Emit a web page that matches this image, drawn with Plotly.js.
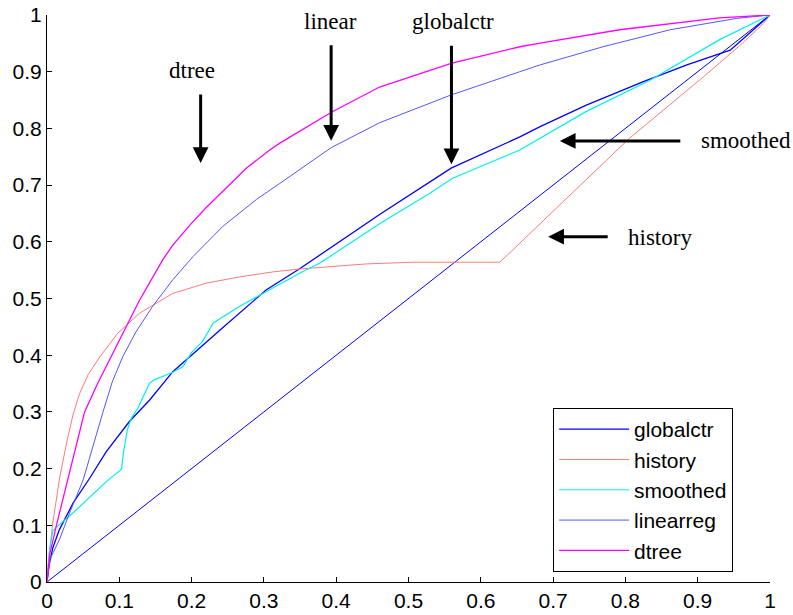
<!DOCTYPE html>
<html>
<head>
<meta charset="utf-8">
<script src="https://cdn.plot.ly/plotly-3.0.1.min.js"></script>
<style>html,body{margin:0;padding:0;background:#fff;}#chart{width:793px;height:615px;}</style>
</head>
<body>
<div id="chart"></div>
<script>
// Series
const diagX = [0, 1];
const diagY = [0, 1];

const globalctrX = [0, 0.003, 0.008, 0.017, 0.036, 0.059, 0.082, 0.105, 0.114, 0.142, 0.165, 0.174, 0.239, 0.303, 0.35, 0.4, 0.46, 0.559, 0.654, 0.682, 0.746, 0.824, 0.885, 0.945, 1];
const globalctrY = [0, 0.03, 0.06, 0.092, 0.139, 0.183, 0.23, 0.268, 0.283, 0.321, 0.356, 0.371, 0.444, 0.515, 0.553, 0.596, 0.648, 0.73, 0.785, 0.803, 0.841, 0.882, 0.912, 0.938, 1];

const historyX = [0, 0.002, 0.005, 0.008, 0.017, 0.027, 0.036, 0.045, 0.057, 0.073, 0.098, 0.128, 0.174, 0.22, 0.266, 0.313, 0.349, 0.442, 0.506, 0.626, 0.642, 0.696, 0.728, 0.806, 0.908, 0.959, 0.991, 1];
const historyY = [0, 0.04, 0.07, 0.104, 0.18, 0.245, 0.295, 0.332, 0.366, 0.397, 0.439, 0.474, 0.509, 0.527, 0.538, 0.547, 0.552, 0.561, 0.564, 0.564, 0.583, 0.65, 0.688, 0.783, 0.891, 0.947, 0.985, 1];

const smoothedX = [0, 0.004, 0.008, 0.015, 0.037, 0.059, 0.082, 0.103, 0.106, 0.111, 0.117, 0.125, 0.135, 0.142, 0.149, 0.174, 0.188, 0.2, 0.215, 0.23, 0.266, 0.303, 0.35, 0.377, 0.46, 0.529, 0.561, 0.654, 0.682, 0.746, 0.834, 0.931, 0.995, 1];
const smoothedY = [0, 0.06, 0.09, 0.099, 0.123, 0.15, 0.177, 0.199, 0.23, 0.268, 0.29, 0.305, 0.333, 0.351, 0.357, 0.37, 0.38, 0.405, 0.424, 0.457, 0.486, 0.512, 0.545, 0.562, 0.632, 0.685, 0.712, 0.762, 0.783, 0.83, 0.885, 0.957, 0.997, 1];

const linearregX = [0, 0.004, 0.017, 0.031, 0.05, 0.063, 0.077, 0.09, 0.105, 0.123, 0.146, 0.174, 0.202, 0.243, 0.29, 0.322, 0.349, 0.393, 0.46, 0.559, 0.654, 0.682, 0.769, 0.862, 0.954, 1];
const linearregY = [0, 0.04, 0.074, 0.121, 0.18, 0.239, 0.298, 0.352, 0.398, 0.441, 0.486, 0.533, 0.574, 0.627, 0.675, 0.703, 0.727, 0.766, 0.81, 0.859, 0.9, 0.912, 0.944, 0.974, 0.994, 1];

const dtreeX = [0, 0.004, 0.013, 0.032, 0.052, 0.07, 0.103, 0.128, 0.16, 0.174, 0.2, 0.22, 0.276, 0.308, 0.322, 0.394, 0.46, 0.56, 0.654, 0.68, 0.792, 0.93, 1];
const dtreeY = [0, 0.05, 0.1, 0.2, 0.3, 0.35, 0.433, 0.497, 0.568, 0.594, 0.633, 0.66, 0.73, 0.762, 0.774, 0.829, 0.873, 0.915, 0.944, 0.95, 0.974, 0.995, 1];

const tickVals = [0, 0.1, 0.2, 0.3, 0.4, 0.5, 0.6, 0.7, 0.8, 0.9, 1];
const tickText = ['0', '0.1', '0.2', '0.3', '0.4', '0.5', '0.6', '0.7', '0.8', '0.9', '1'];

const labels = ['dtree', 'linear', 'globalctr', 'smoothed', 'history'];

const traces = [
  {x: diagX, y: diagY, mode: 'lines', line: {color: '#0000ff', width: 1}, showlegend: false, hoverinfo: 'skip'},
  {x: globalctrX, y: globalctrY, name: 'globalctr', legendgroup: 'g1', mode: 'lines', line: {color: '#0000ff', width: 1.3}},
  {x: historyX, y: historyY, name: 'history', legendgroup: 'g2', mode: 'lines', line: {color: '#ff7a7a', width: 1}},
  {x: smoothedX, y: smoothedY, name: 'smoothed', legendgroup: 'g3', mode: 'lines', line: {color: '#00f0f0', width: 1.2}},
  {x: linearregX, y: linearregY, name: 'linearreg', legendgroup: 'g4', mode: 'lines', line: {color: '#5555ff', width: 1}},
  {x: dtreeX, y: dtreeY, name: 'dtree', legendgroup: 'g5', mode: 'lines', line: {color: '#ff00ff', width: 1.3}}
];

const serif = 'Liberation Serif, Times New Roman, serif';
const arrowBase = {xref: 'x', yref: 'y', text: '', showarrow: true, arrowhead: 2, arrowsize: 1.05, arrowwidth: 3, arrowcolor: '#000', axref: 'pixel', ayref: 'pixel'};

const annotations = [
  Object.assign({}, arrowBase, {x: 0.2125, y: 0.739, ax: 0, ay: -70}),
  Object.assign({}, arrowBase, {x: 0.393, y: 0.778, ax: 0, ay: -97}),
  Object.assign({}, arrowBase, {x: 0.5594, y: 0.7367, ax: 0, ay: -120}),
  Object.assign({}, arrowBase, {x: 0.7093, y: 0.7778, ax: 122, ay: 0}),
  Object.assign({}, arrowBase, {x: 0.6932, y: 0.609, ax: 61, ay: 0}),
  {xref: 'x', yref: 'y', x: 0.2, y: 0.903, text: labels[0], showarrow: false, xanchor: 'center', yanchor: 'middle', font: {family: serif, size: 23, color: '#000'}},
  {xref: 'x', yref: 'y', x: 0.3925, y: 0.989, text: labels[1], showarrow: false, xanchor: 'center', yanchor: 'middle', font: {family: serif, size: 23, color: '#000'}},
  {xref: 'x', yref: 'y', x: 0.561, y: 0.988, text: labels[2], showarrow: false, xanchor: 'center', yanchor: 'middle', font: {family: serif, size: 23, color: '#000'}},
  {xref: 'x', yref: 'y', x: 0.902, y: 0.778, text: labels[3], showarrow: false, xanchor: 'left', yanchor: 'middle', font: {family: serif, size: 23, color: '#000'}},
  {xref: 'x', yref: 'y', x: 0.801, y: 0.608, text: labels[4], showarrow: false, xanchor: 'left', yanchor: 'middle', font: {family: serif, size: 23, color: '#000'}}
];

const axisCommon = {
  range: [0, 1], tickmode: 'array', tickvals: tickVals, ticktext: tickText,
  showgrid: false, zeroline: false, showline: true, linecolor: '#000', linewidth: 1,
  ticks: 'inside', ticklen: 5, tickcolor: '#000', tickwidth: 1, mirror: false,
  tickfont: {family: 'Liberation Sans, Arial, sans-serif', size: 21, color: '#000'}
};

const layout = {
  width: 793, height: 615,
  margin: {l: 47, r: 23, t: 15, b: 33, pad: 0},
  paper_bgcolor: '#fff', plot_bgcolor: '#fff',
  xaxis: Object.assign({}, axisCommon),
  yaxis: Object.assign({}, axisCommon),
  showlegend: true,
  legend: {
    x: 0.7, xanchor: 'left', y: 0.0176, yanchor: 'bottom',
    bordercolor: '#000', borderwidth: 1, bgcolor: '#fff',
    font: {family: 'Liberation Sans, Arial, sans-serif', size: 21, color: '#000'},
    traceorder: 'grouped', tracegroupgap: 0, itemwidth: 70
  },
  annotations: annotations
};

Plotly.newPlot('chart', traces, layout, {staticPlot: true, displayModeBar: false});
</script>
</body>
</html>
